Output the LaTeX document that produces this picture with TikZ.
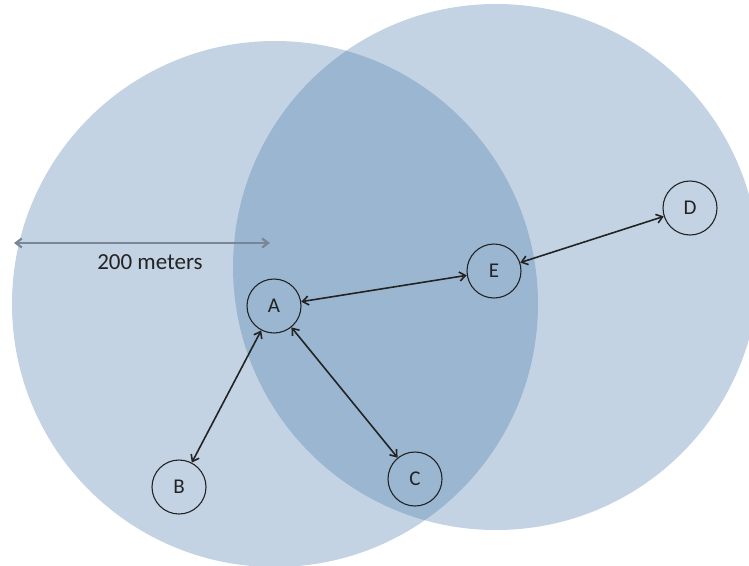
\documentclass[tikz,border=0pt]{standalone}
\usepackage{fontspec}
\setmainfont{Carlito}
\usetikzlibrary{arrows.meta}
\definecolor{zoneblue}{RGB}{82,129,176}
\definecolor{inkgray}{RGB}{35,35,35}
\definecolor{rulegray}{RGB}{120,134,150}
\tikzset{
    zone/.style = {fill=zoneblue, fill opacity=0.35},
    station/.style = {circle, draw=inkgray, line width=1.1pt, minimum size=54pt, inner sep=0pt, text=inkgray, font=\fontsize{21}{21}\selectfont},
    link/.style = {{Straight Barb[length=6pt,width=9pt]}-{Straight Barb[length=6pt,width=9pt]}, line width=1.6pt, inkgray},
    ruler/.style = {{Straight Barb[length=6pt,width=9pt]}-{Straight Barb[length=6pt,width=9pt]}, line width=2.2pt, rulegray},
}

\begin{document}
\begin{tikzpicture}[x=1pt,y=-1pt]
\useasboundingbox (0,0) rectangle (749,565);
\clip (0,0) rectangle (749,565);
% coverage areas
\fill[zone] (275,304) circle (263pt);
\fill[zone] (496,267) circle (263pt);
%
\node[station] at (274,306) (a) {A};
\node[station] at (179,487) (b) {B};
\node[station] at (415,479) (c) {C};
\node[station] at (690,208) (d) {D};
\node[station] at (494,271) (e) {E};
%
\draw[link] (a) -- (e);
\draw[link] (e) -- (d);
\draw[link] (a) -- (b);
\draw[link] (a) -- (c);
% range
\coordinate (rl) at (14,243);
\coordinate (rr) at (270,243);
\draw[ruler] (rl) -- (rr);
\node[text=inkgray, font=\fontsize{23}{23}\selectfont] at (150,262) (range) {200 meters};

\end{tikzpicture}
\end{document}
